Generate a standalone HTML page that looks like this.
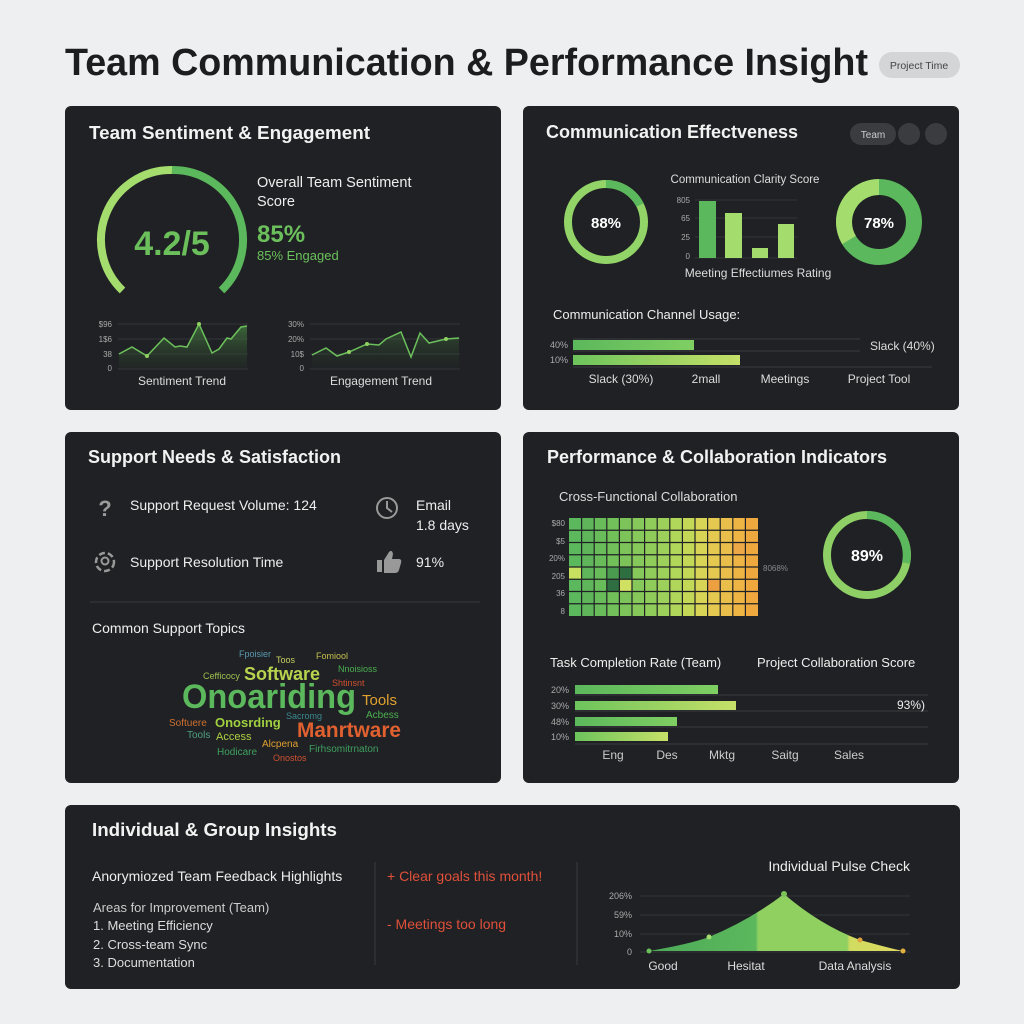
<!DOCTYPE html>
<html><head><meta charset="utf-8"><style>
html,body{margin:0;padding:0;background:#eeeff0;}
svg{display:block;font-family:"Liberation Sans",sans-serif;}
</style></head><body>
<svg width="1024" height="1024" viewBox="0 0 1024 1024" xmlns="http://www.w3.org/2000/svg">
<defs>
<linearGradient id="gb" x1="0" x2="1"><stop offset="0" stop-color="#5cb85c"/><stop offset="1" stop-color="#7fcf62"/></linearGradient>
<linearGradient id="gl" x1="0" x2="1"><stop offset="0" stop-color="#6cc45c"/><stop offset="1" stop-color="#c6e068"/></linearGradient>
<linearGradient id="ga" x1="0" x2="0" y1="0" y2="1"><stop offset="0" stop-color="#4a8a44" stop-opacity="0.7"/><stop offset="1" stop-color="#2a3a2a" stop-opacity="0.2"/></linearGradient>
<linearGradient id="gp" x1="0" x2="1"><stop offset="0" stop-color="#4caa58"/><stop offset="0.42" stop-color="#5cb85c"/><stop offset="0.43" stop-color="#8fd060"/><stop offset="0.78" stop-color="#8fd060"/><stop offset="0.79" stop-color="#d0dc60"/><stop offset="1" stop-color="#e0d860"/></linearGradient>
</defs>
<rect width="1024" height="1024" fill="#eeeff0"/>
<text x="65" y="75" font-size="38" font-weight="bold" fill="#1c1d1f" textLength="803" lengthAdjust="spacingAndGlyphs">Team Communication &amp; Performance Insight</text>
<rect x="879" y="52" width="81" height="26" rx="13" fill="#d4d5d7"/>
<text x="919" y="69" font-size="10.5" fill="#444" text-anchor="middle">Project  Time</text>

<!-- panels -->
<rect x="65" y="106" width="436" height="304" rx="6" fill="#1f2124"/>
<rect x="523" y="106" width="436" height="304" rx="6" fill="#1f2124"/>
<rect x="65" y="432" width="436" height="351" rx="6" fill="#1f2124"/>
<rect x="523" y="432" width="436" height="351" rx="6" fill="#1f2124"/>
<rect x="65" y="805" width="895" height="184" rx="6" fill="#1f2124"/>

<!-- P1 -->
<text x="89" y="139" font-size="18" font-weight="bold" fill="#f2f2f2" textLength="281" lengthAdjust="spacingAndGlyphs">Team Sentiment &amp; Engagement</text>
<path d="M122.5 290.5 A70 70 0 0 1 172 170" fill="none" stroke="#a5dc6e" stroke-width="8"/>
<path d="M172 170 A70 70 0 0 1 221.5 290.5" fill="none" stroke="#5cb85c" stroke-width="8"/>
<text x="172" y="255" font-size="34" font-weight="bold" fill="#6cc05c" text-anchor="middle">4.2/5</text>
<text x="257" y="187" font-size="14.5" fill="#eee">Overall Team Sentiment</text>
<text x="257" y="206" font-size="14.5" fill="#eee">Score</text>
<text x="257" y="242" font-size="24" font-weight="bold" fill="#6cc05c">85%</text>
<text x="257" y="260" font-size="13" fill="#6cc05c">85% Engaged</text>
<g font-size="8" fill="#aaa" text-anchor="end">
<text x="112" y="327">$96</text><text x="112" y="342">1$6</text><text x="112" y="357">38</text><text x="112" y="371">0</text>
<text x="304" y="327">30%</text><text x="304" y="342">20%</text><text x="304" y="357">10$</text><text x="304" y="371">0</text>
</g>
<g stroke="#333538" stroke-width="1">
<line x1="118" y1="324" x2="248" y2="324"/><line x1="118" y1="339" x2="248" y2="339"/><line x1="118" y1="354" x2="248" y2="354"/><line x1="118" y1="369" x2="248" y2="369"/>
<line x1="310" y1="324" x2="460" y2="324"/><line x1="310" y1="339" x2="460" y2="339"/><line x1="310" y1="354" x2="460" y2="354"/><line x1="310" y1="369" x2="460" y2="369"/>
</g>
<path d="M119 354 L132 347 L147 356 L164 338 L175 347 L180 346 L187 347 L199 324 L212 353 L219 349 L227 338 L231 339 L241 327 L247 326 L247 369 L119 369 Z" fill="url(#ga)"/>
<polyline points="119,354 132,347 147,356 164,338 175,347 180,346 187,347 199,324 212,353 219,349 227,338 231,339 241,327 247,326" fill="none" stroke="#6cc05c" stroke-width="1.5"/>
<circle cx="199" cy="324" r="2" fill="#8fd060"/><circle cx="147" cy="356" r="2" fill="#8fd060"/>
<path d="M312 355 L326 348 L337 356 L349 352 L367 344 L379 345 L386 339 L401 332 L411 357 L420 333 L429 343 L446 339 L459 338 L459 369 L312 369 Z" fill="url(#ga)" opacity="0.5"/>
<polyline points="312,355 326,348 337,356 349,352 367,344 379,345 386,339 401,332 411,357 420,333 429,343 446,339 459,338" fill="none" stroke="#6cc05c" stroke-width="1.5"/>
<circle cx="349" cy="352" r="2" fill="#8fd060"/><circle cx="367" cy="344" r="2" fill="#8fd060"/><circle cx="446" cy="339" r="2" fill="#8fd060"/>
<text x="182" y="385" font-size="12" fill="#ddd" text-anchor="middle">Sentiment Trend</text>
<text x="381" y="385" font-size="12" fill="#ddd" text-anchor="middle">Engagement Trend</text>

<!-- P2 -->
<text x="546" y="138" font-size="18" font-weight="bold" fill="#f2f2f2">Communication Effectveness</text>
<rect x="850" y="123" width="46" height="22" rx="11" fill="#3a3c40"/>
<text x="873" y="138" font-size="10" fill="#ccc" text-anchor="middle">Team</text>
<circle cx="909" cy="134" r="11" fill="#3a3c40"/><circle cx="936" cy="134" r="11" fill="#3a3c40"/>
<circle cx="606" cy="222" r="38" fill="none" stroke="#93d468" stroke-width="8"/>
<path d="M606 184 A38 38 0 0 1 640 205" fill="none" stroke="#5cb85c" stroke-width="8"/>
<text x="606" y="228" font-size="15" font-weight="bold" fill="#fff" text-anchor="middle">88%</text>
<text x="745" y="183" font-size="11.5" fill="#ddd" text-anchor="middle">Communication Clarity Score</text>
<g font-size="8" fill="#aaa" text-anchor="end"><text x="690" y="203">805</text><text x="690" y="221">65</text><text x="690" y="240">25</text><text x="690" y="259">0</text></g>
<g stroke="#333538"><line x1="695" y1="200" x2="797" y2="200"/><line x1="695" y1="218" x2="797" y2="218"/><line x1="695" y1="237" x2="797" y2="237"/><line x1="695" y1="258" x2="797" y2="258"/></g>
<rect x="699" y="201" width="17" height="57" fill="#5cb85c"/>
<rect x="725" y="213" width="17" height="45" fill="#a5dc6e"/>
<rect x="752" y="248" width="16" height="10" fill="#a5dc6e"/>
<rect x="778" y="224" width="16" height="34" fill="#a5dc6e"/>
<text x="758" y="277" font-size="12" fill="#ddd" text-anchor="middle">Meeting Effectiumes Rating</text>
<circle cx="879" cy="222" r="35" fill="none" stroke="#5cb85c" stroke-width="16"/>
<path d="M879 187 A35 35 0 0 0 849 240" fill="none" stroke="#a5dc6e" stroke-width="16"/>
<text x="879" y="228" font-size="15" font-weight="bold" fill="#fff" text-anchor="middle">78%</text>
<text x="553" y="319" font-size="13" fill="#eee">Communication Channel Usage:</text>
<g stroke="#3a3c40"><line x1="573" y1="339" x2="860" y2="339"/><line x1="573" y1="351" x2="860" y2="351"/><line x1="573" y1="367" x2="932" y2="367"/></g>
<g font-size="9" fill="#aaa" text-anchor="end"><text x="568" y="348">40%</text><text x="568" y="363">10%</text></g>
<rect x="573" y="340" width="121" height="10" fill="url(#gb)"/>
<rect x="573" y="355" width="167" height="10" fill="url(#gl)"/>
<text x="870" y="350" font-size="12" fill="#ddd">Slack (40%)</text>
<g font-size="12" fill="#ddd" text-anchor="middle"><text x="621" y="383">Slack (30%)</text><text x="706" y="383">2mall</text><text x="785" y="383">Meetings</text><text x="879" y="383">Project Tool</text></g>

<!-- P3 -->
<text x="88" y="463" font-size="18" font-weight="bold" fill="#f2f2f2">Support Needs &amp; Satisfaction</text>
<text x="105" y="516" font-size="22" font-weight="bold" fill="#9a9a9a" text-anchor="middle">?</text>
<text x="130" y="510" font-size="14" fill="#eee">Support Request Volume: 124</text>
<circle cx="387" cy="508" r="10" fill="none" stroke="#999" stroke-width="2"/>
<path d="M387 501 L387 508 L392 512" fill="none" stroke="#999" stroke-width="2"/>
<text x="416" y="510" font-size="14" fill="#eee">Email</text>
<text x="416" y="530" font-size="14" fill="#eee">1.8 days</text>
<circle cx="105" cy="562" r="9" fill="none" stroke="#999" stroke-width="2.5" stroke-dasharray="6 3"/>
<circle cx="105" cy="561" r="3.5" fill="none" stroke="#999" stroke-width="2"/>
<text x="130" y="567" font-size="14" fill="#eee">Support Resolution Time</text>
<path d="M377 560 h5 v12 h-5 z M384 560 l5 -8 q3 -3 4 2 l-1 5 h7 q3 0 2 4 l-2 7 q-1 3 -4 3 h-11 z" fill="#999"/>
<text x="416" y="567" font-size="14" fill="#eee">91%</text>
<line x1="90" y1="602" x2="480" y2="602" stroke="#3a3c40"/>
<text x="92" y="633" font-size="14" fill="#eee">Common Support Topics</text>
<g font-family="Liberation Sans, sans-serif">
<text x="239" y="657" font-size="9" fill="#5a9ab0">Fpoisier</text>
<text x="276" y="663" font-size="9" fill="#c8d060">Toos</text>
<text x="316" y="659" font-size="9" fill="#c8c050">Fomiool</text>
<text x="338" y="672" font-size="9" fill="#4caf50">Nnoisioss</text>
<text x="203" y="679" font-size="9" fill="#a0c050">Cefficocy</text>
<text x="244" y="680" font-size="18" font-weight="bold" fill="#b8d44e">Software</text>
<text x="332" y="686" font-size="9" fill="#d05030">Shtinsnt</text>
<text x="182" y="708" font-size="34" font-weight="bold" fill="#5cb85c" textLength="174" lengthAdjust="spacingAndGlyphs">Onoariding</text>
<text x="362" y="705" font-size="15" fill="#e0a030">Tools</text>
<text x="286" y="719" font-size="9" fill="#3a8a90">Sacromg</text>
<text x="366" y="718" font-size="10" fill="#4caf50">Acbess</text>
<text x="169" y="726" font-size="10" fill="#d07030">Softuere</text>
<text x="215" y="727" font-size="13" font-weight="bold" fill="#a0d040">Onosrding</text>
<text x="297" y="737" font-size="21" font-weight="bold" fill="#e06030" textLength="104" lengthAdjust="spacingAndGlyphs">Manrtware</text>
<text x="187" y="738" font-size="10" fill="#50a080">Tools</text>
<text x="216" y="740" font-size="11" fill="#b0d040">Access</text>
<text x="262" y="747" font-size="10" fill="#e0a030">Alcpena</text>
<text x="217" y="755" font-size="10" fill="#40a060">Hodicare</text>
<text x="309" y="752" font-size="10" fill="#40a060">Firhsomitrnaton</text>
<text x="273" y="761" font-size="9" fill="#d05030">Onostos</text>
</g>

<!-- P4 -->
<text x="547" y="463" font-size="18" font-weight="bold" fill="#f2f2f2">Performance &amp; Collaboration Indicators</text>
<text x="559" y="501" font-size="13" fill="#ddd">Cross-Functional Collaboration</text>
<g>
<rect x="569" y="518" width="12.6" height="98" fill="#5cb85c"/>
<rect x="581.6" y="518" width="12.6" height="98" fill="#5fb65a"/>
<rect x="594.2" y="518" width="12.6" height="98" fill="#68bc5a"/>
<rect x="606.8" y="518" width="12.6" height="98" fill="#72c05a"/>
<rect x="619.4" y="518" width="12.6" height="98" fill="#7cc45a"/>
<rect x="632" y="518" width="12.6" height="98" fill="#86c85a"/>
<rect x="644.6" y="518" width="12.6" height="98" fill="#90cc5a"/>
<rect x="657.2" y="518" width="12.6" height="98" fill="#9cd05a"/>
<rect x="669.8" y="518" width="12.6" height="98" fill="#b0d65a"/>
<rect x="682.4" y="518" width="12.6" height="98" fill="#c4d858"/>
<rect x="695" y="518" width="12.6" height="98" fill="#d8d456"/>
<rect x="707.6" y="518" width="12.6" height="98" fill="#e4c850"/>
<rect x="720.2" y="518" width="12.6" height="98" fill="#eabe4a"/>
<rect x="732.8" y="518" width="12.6" height="98" fill="#eeb444"/>
<rect x="745.4" y="518" width="12.6" height="98" fill="#efa83e"/>
<rect x="569" y="567" width="12.6" height="12.25" fill="#c8e060"/>
<rect x="606.8" y="567" width="12.6" height="12.25" fill="#4a9a50"/>
<rect x="619.4" y="567" width="12.6" height="12.25" fill="#2f6e40"/>
<rect x="606.8" y="579.25" width="12.6" height="12.25" fill="#2f6e40"/>
<rect x="619.4" y="579.25" width="12.6" height="12.25" fill="#d0e060"/>
<rect x="707.6" y="579.25" width="12.6" height="12.25" fill="#eca040"/>
<rect x="732.8" y="542.5" width="12.6" height="12.25" fill="#eca846"/>
<g stroke="#1f2124" stroke-width="1.2">
<line x1="581.6" y1="518" x2="581.6" y2="616"/><line x1="594.2" y1="518" x2="594.2" y2="616"/><line x1="606.8" y1="518" x2="606.8" y2="616"/><line x1="619.4" y1="518" x2="619.4" y2="616"/><line x1="632" y1="518" x2="632" y2="616"/><line x1="644.6" y1="518" x2="644.6" y2="616"/><line x1="657.2" y1="518" x2="657.2" y2="616"/><line x1="669.8" y1="518" x2="669.8" y2="616"/><line x1="682.4" y1="518" x2="682.4" y2="616"/><line x1="695" y1="518" x2="695" y2="616"/><line x1="707.6" y1="518" x2="707.6" y2="616"/><line x1="720.2" y1="518" x2="720.2" y2="616"/><line x1="732.8" y1="518" x2="732.8" y2="616"/><line x1="745.4" y1="518" x2="745.4" y2="616"/>
<line x1="569" y1="530.25" x2="758" y2="530.25"/><line x1="569" y1="542.5" x2="758" y2="542.5"/><line x1="569" y1="554.75" x2="758" y2="554.75"/><line x1="569" y1="567" x2="758" y2="567"/><line x1="569" y1="579.25" x2="758" y2="579.25"/><line x1="569" y1="591.5" x2="758" y2="591.5"/><line x1="569" y1="603.75" x2="758" y2="603.75"/>
</g>
</g>
<g font-size="8" fill="#aaa" text-anchor="end"><text x="565" y="526">$80</text><text x="565" y="544">$5</text><text x="565" y="561">20%</text><text x="565" y="579">205</text><text x="565" y="596">36</text><text x="565" y="614">8</text></g>
<text x="763" y="571" font-size="8" fill="#888">8068%</text>
<circle cx="867" cy="555" r="40" fill="none" stroke="#8fd066" stroke-width="8"/>
<path d="M867 515 A40 40 0 0 1 906 563" fill="none" stroke="#5cb85c" stroke-width="8"/>
<text x="867" y="561" font-size="16" font-weight="bold" fill="#fff" text-anchor="middle">89%</text>
<text x="550" y="667" font-size="13" fill="#eee">Task Completion Rate (Team)</text>
<text x="757" y="667" font-size="13" fill="#eee">Project Collaboration Score</text>
<g stroke="#3a3c40"><line x1="575" y1="695" x2="928" y2="695"/><line x1="575" y1="711" x2="928" y2="711"/><line x1="575" y1="727" x2="928" y2="727"/><line x1="575" y1="744" x2="928" y2="744"/></g>
<g font-size="9" fill="#aaa" text-anchor="end"><text x="569" y="693">20%</text><text x="569" y="709">30%</text><text x="569" y="725">48%</text><text x="569" y="740">10%</text></g>
<rect x="575" y="685" width="143" height="9" fill="url(#gb)"/>
<rect x="575" y="701" width="161" height="9" fill="url(#gl)"/>
<rect x="575" y="717" width="102" height="9" fill="url(#gb)"/>
<rect x="575" y="732" width="93" height="9" fill="url(#gl)"/>
<text x="897" y="709" font-size="12" fill="#eee">93%)</text>
<g font-size="12" fill="#ccc" text-anchor="middle"><text x="613" y="759">Eng</text><text x="667" y="759">Des</text><text x="722" y="759">Mktg</text><text x="785" y="759">Saitg</text><text x="849" y="759">Sales</text></g>

<!-- P5 -->
<text x="92" y="836" font-size="18" font-weight="bold" fill="#f2f2f2" textLength="245" lengthAdjust="spacingAndGlyphs">Individual &amp; Group Insights</text>
<text x="92" y="881" font-size="14" fill="#eee">Anorymiozed Team Feedback Highlights</text>
<text x="93" y="912" font-size="13" fill="#ccc">Areas for Improvement (Team)</text>
<text x="93" y="930" font-size="13" fill="#ddd">1. Meeting Efficiency</text>
<text x="93" y="949" font-size="13" fill="#ddd">2. Cross-team Sync</text>
<text x="93" y="967" font-size="13" fill="#ddd">3. Documentation</text>
<line x1="375" y1="862" x2="375" y2="965" stroke="#3a3c40"/>
<line x1="577" y1="862" x2="577" y2="965" stroke="#3a3c40"/>
<text x="387" y="881" font-size="14" fill="#e0503a">+ Clear goals this month!</text>
<text x="387" y="929" font-size="14" fill="#e0503a">- Meetings too long</text>
<text x="910" y="871" font-size="14" fill="#eee" text-anchor="end">Individual Pulse Check</text>
<g font-size="9" fill="#aaa" text-anchor="end"><text x="632" y="899">206%</text><text x="632" y="918">59%</text><text x="632" y="937">10%</text><text x="632" y="955">0</text></g>
<g stroke="#333538"><line x1="640" y1="896" x2="910" y2="896"/><line x1="640" y1="915" x2="910" y2="915"/><line x1="640" y1="934" x2="910" y2="934"/><line x1="640" y1="952" x2="910" y2="952"/></g>
<path d="M649 951 Q690 944 709 937 Q750 920 784 894 Q820 925 860 940 Q885 947 903 951 Z" fill="url(#gp)"/>
<circle cx="649" cy="951" r="2.5" fill="#6cc05c"/><circle cx="709" cy="937" r="2.5" fill="#a5dc6e"/><circle cx="784" cy="894" r="3" fill="#7cc45a"/><circle cx="860" cy="940" r="2.5" fill="#e0a040"/><circle cx="903" cy="951" r="2.5" fill="#e0b040"/>
<g font-size="12" fill="#ddd" text-anchor="middle"><text x="663" y="970">Good</text><text x="746" y="970">Hesitat</text><text x="855" y="970">Data Analysis</text></g>
</svg>
</body></html>
